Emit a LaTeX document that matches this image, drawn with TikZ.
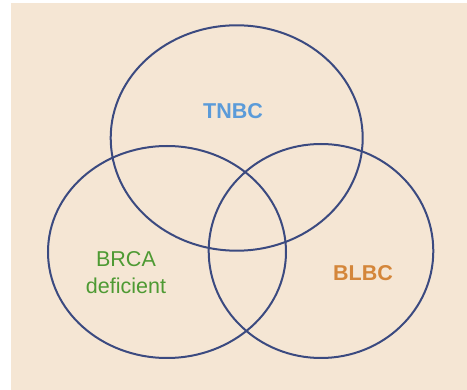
\documentclass[tikz,border=0pt]{standalone}
\usepackage{fontspec}
\setmainfont{Liberation Sans}
\definecolor{paper}{HTML}{F5E6D4}
\definecolor{ring}{HTML}{3B4A80}
\definecolor{tnbc}{HTML}{5B9BD9}
\definecolor{brca}{HTML}{4E9A33}
\definecolor{blbc}{HTML}{D4863A}
\tikzset{
  setring/.style={draw=ring, line width=2pt},
  setlabel/.style={align=center, inner sep=0pt}
}
\begin{document}
\begin{tikzpicture}[x=1pt, y=-1pt]
  \useasboundingbox (0,0) rectangle (467,390);
  \fill[white] (0,0) rectangle (467,390);
  \fill[paper] (11,3) rectangle (467,390);
  % the three sets
  \draw[setring] (236.7,138) ellipse [x radius=126, y radius=112.7];
  \draw[setring] (167,252) ellipse [x radius=119, y radius=106];
  \draw[setring] (321,251) ellipse [x radius=112.3, y radius=107];
  % set names
  \node[setlabel, text=tnbc, font=\fontsize{21.5}{26}\selectfont\bfseries] (tnbc) at (233,111) {TNBC};
  \node[setlabel, text=brca, font=\fontsize{21.5}{27}\selectfont] (brca) at (126,272.5) {BRCA\\deficient};
  \node[setlabel, text=blbc, font=\fontsize{21.5}{26}\selectfont\bfseries] (blbc) at (363,273) {BLBC};
\end{tikzpicture}
\end{document}
